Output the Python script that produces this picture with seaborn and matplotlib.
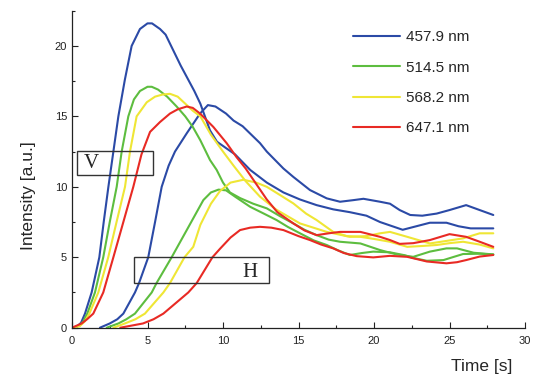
import numpy as np
import pandas as pd
import matplotlib
matplotlib.use("Agg")
import matplotlib.pyplot as plt
from matplotlib.patches import Rectangle
from matplotlib.lines import Line2D
from matplotlib.ticker import MultipleLocator
import seaborn as sns

# ── Data (time [s], intensity [a.u.]) ───────────────────────────────────────
wavelengths = ["457.9 nm", "514.5 nm", "568.2 nm", "647.1 nm"]
colors = ["#2b4aa6", "#5dbd3f", "#efe635", "#e82a24"]

# V-polarised (early rise)
blue_v_t = [0, 0.3, 0.6, 0.86, 1.3, 1.81, 2.1, 2.41, 2.74, 3.07, 3.5, 3.95, 4.5, 5.0, 5.3, 5.83, 6.2, 6.7,
            7.2, 7.6, 8.1, 8.5, 9.14, 9.6, 10.8, 11.8, 12.9, 14.0, 15.1, 16.2, 17.3, 18.4, 19.5, 20.4,
            21.9, 22.8, 23.7, 24.8, 25.6, 26.4, 27.9]
blue_v_i = [0, 0.05, 0.35, 1.0, 2.5, 5.0, 7.5, 10.0, 12.5, 15.0, 17.6, 20.0, 21.2, 21.6, 21.6, 21.2, 20.8, 19.7,
            18.6, 17.8, 16.8, 15.9, 14.0, 13.2, 12.3, 11.2, 10.3, 9.6, 9.1, 8.7, 8.4, 8.2, 7.95, 7.5,
            6.95, 7.2, 7.45, 7.45, 7.2, 7.05, 7.05]
green_v_t = [0, 0.5, 0.75, 1.01, 1.52, 2.07, 2.5, 2.96, 3.29, 3.73, 4.1, 4.5, 5.0, 5.28, 5.7, 6.3, 6.93, 7.5,
             8.0, 8.5, 9.14, 9.58, 10.0, 10.46, 11.13, 12.0, 12.9, 13.8, 14.66, 15.4, 16.2, 17.0, 17.75,
             19.1, 20.4, 21.5, 22.6, 23.7, 24.8, 25.5, 26.6, 27.9]
green_v_i = [0, 0.15, 0.45, 1.0, 2.5, 5.0, 7.5, 10.0, 12.5, 15.0, 16.2, 16.8, 17.1, 17.1, 16.9, 16.4, 15.7, 15.0,
             14.25, 13.3, 11.9, 11.2, 10.3, 9.6, 9.2, 8.8, 8.47, 7.9, 7.4, 6.95, 6.57, 6.25, 6.1,
             5.98, 5.51, 5.2, 5.03, 5.4, 5.63, 5.63, 5.32, 5.2]
yellow_v_t = [0, 0.5, 0.85, 1.15, 1.74, 2.4, 2.95, 3.51, 3.84, 4.28, 4.95, 5.5, 6.0, 6.49, 7.0, 7.5, 8.0, 8.5,
              9.2, 10.0, 10.7, 11.5, 12.45, 13.5, 15.1, 16.87, 18.4, 19.5, 20.4, 21.06, 22.2, 23.7,
              25.9, 27.0, 27.9]
yellow_v_i = [0, 0.1, 0.45, 1.0, 2.5, 5.0, 7.5, 10.0, 12.5, 15.0, 16.0, 16.4, 16.55, 16.6, 16.4, 15.9, 15.4, 15.0,
              13.7, 12.5, 11.5, 10.4, 9.3, 8.4, 7.4, 6.8, 6.45, 6.5, 6.7, 6.8, 6.45, 5.98,
              6.34, 6.7, 6.7]
red_v_t = [0, 0.64, 1.0, 1.41, 2.07, 2.74, 3.4, 4.06, 4.6, 5.17, 5.83, 6.49, 7.0, 7.6, 8.0, 8.48, 9.36, 10.24,
           10.9, 11.5, 12.2, 12.9, 13.6, 14.66, 15.4, 16.2, 17.0, 17.75, 19.1, 20.4, 21.06, 21.7, 22.6,
           23.7, 25.0, 26.1, 27.0, 27.9]
red_v_i = [0, 0.3, 0.6, 1.0, 2.5, 5.0, 7.5, 10.0, 12.3, 13.9, 14.6, 15.2, 15.5, 15.7, 15.6, 15.2, 14.25, 13.1,
           12.1, 11.3, 10.2, 9.1, 8.2, 7.4, 6.9, 6.57, 6.7, 6.8, 6.8, 6.45, 6.22, 5.95, 6.0,
           6.22, 6.64, 6.45, 6.1, 5.74]

# H-polarised (delayed rise)
blue_h_t = [1.85, 2.5, 3.0, 3.4, 4.17, 4.44, 5.05, 5.5, 5.94, 6.4, 6.82, 7.6, 8.48, 9.0, 9.5, 10.2, 10.7, 11.3,
            12.45, 12.9, 14.0, 14.66, 15.76, 16.87, 17.75, 18.6, 19.3, 20.4, 21.06, 21.7, 22.4, 23.2,
            24.15, 25.0, 26.1, 27.0, 27.9]
blue_h_i = [0, 0.3, 0.6, 1.0, 2.5, 3.17, 5.0, 7.5, 10.0, 11.5, 12.5, 13.8, 15.2, 15.8, 15.7, 15.2, 14.7, 14.3,
            13.1, 12.5, 11.3, 10.7, 9.77, 9.18, 8.94, 9.05, 9.15, 8.94, 8.8, 8.35, 8.0, 7.95,
            8.1, 8.35, 8.7, 8.35, 8.0]
green_h_t = [2.3, 3.07, 3.6, 4.17, 5.28, 5.6, 6.6, 7.6, 8.7, 9.2, 9.7, 10.2, 10.8, 11.8, 12.7, 13.55, 14.3,
             15.1, 16.0, 16.87, 17.6, 18.4, 19.2, 19.95, 21.06, 22.0, 22.6, 23.5, 24.6, 25.2, 25.9,
             27.0, 27.9]
green_h_i = [0, 0.3, 0.6, 1.0, 2.5, 3.17, 5.0, 6.93, 9.06, 9.6, 9.8, 9.75, 9.3, 8.58, 8.1, 7.64, 7.15,
             6.7, 6.2, 5.87, 5.5, 5.16, 5.3, 5.4, 5.35, 5.15, 4.95, 4.75, 4.8, 5.0, 5.23,
             5.25, 5.2]
yellow_h_t = [2.74, 3.5, 4.2, 4.83, 6.05, 6.49, 7.45, 8.03, 8.5, 9.2, 9.8, 10.5, 11.35, 12.2, 12.9, 13.8,
              14.66, 15.5, 16.2, 17.3, 18.2, 19.1, 20.0, 21.06, 22.2, 23.2, 24.15, 25.0, 25.9, 27.0, 27.9]
yellow_h_i = [0, 0.3, 0.6, 1.0, 2.5, 3.17, 5.0, 5.74, 7.3, 8.8, 9.7, 10.3, 10.5, 10.3, 10.0, 9.4,
              8.82, 8.1, 7.64, 6.8, 6.5, 6.45, 6.3, 6.1, 5.74, 5.8, 5.87, 6.0, 6.1, 5.9, 5.63]
red_h_t = [3.2, 4.7, 5.4, 6.05, 7.7, 8.26, 9.3, 9.8, 10.5, 11.13, 11.8, 12.45, 13.2, 14.0, 15.0, 15.76, 16.5,
           17.3, 18.0, 18.85, 19.95, 21.06, 22.2, 23.5, 24.8, 25.5, 26.1, 27.0, 27.9]
red_h_i = [0, 0.3, 0.6, 1.0, 2.5, 3.17, 5.0, 5.6, 6.4, 6.93, 7.1, 7.16, 7.1, 6.93, 6.5, 6.22, 5.9,
           5.63, 5.3, 5.08, 4.99, 5.1, 5.03, 4.7, 4.57, 4.65, 4.8, 5.05, 5.16]

curves = [
    ("457.9 nm", "V", blue_v_t, blue_v_i), ("514.5 nm", "V", green_v_t, green_v_i),
    ("568.2 nm", "V", yellow_v_t, yellow_v_i), ("647.1 nm", "V", red_v_t, red_v_i),
    ("457.9 nm", "H", blue_h_t, blue_h_i), ("514.5 nm", "H", green_h_t, green_h_i),
    ("568.2 nm", "H", yellow_h_t, yellow_h_i), ("647.1 nm", "H", red_h_t, red_h_i),
]
rows = []
for wl, pol, t, inten in curves:
    for a, b in zip(t, inten):
        rows.append({"time": a, "intensity": b, "wavelength": wl, "pol": pol})
df = pd.DataFrame(rows)

# ── Plot ─────────────────────────────────────────────────────────────────────
sns.set_style("ticks")
plt.rcParams['font.family'] = ['Liberation Sans', 'DejaVu Sans']

fig = plt.figure(figsize=(5.34, 3.79), dpi=100)
ax = fig.add_axes([72 / 534, 1 - 327.7 / 379, (525 - 72) / 534, (327.7 - 10.7) / 379])

palette = dict(zip(wavelengths, colors))
sns.lineplot(data=df, x="time", y="intensity", hue="wavelength", units="pol",
             estimator=None, sort=False, palette=palette, lw=1.5, legend=False, ax=ax)

ax.set_xlim(0, 30)
ax.set_ylim(0, 22.5)
ax.xaxis.set_major_locator(MultipleLocator(5))
ax.xaxis.set_minor_locator(MultipleLocator(2.5))
ax.yaxis.set_major_locator(MultipleLocator(5))
ax.yaxis.set_minor_locator(MultipleLocator(2.5))
ax.tick_params(which='both', direction='in', width=0.8, colors='#222222', labelsize=8)
ax.tick_params(which='major', length=4)
ax.tick_params(which='minor', length=2.5)
ax.tick_params(axis='x', pad=6)
ax.tick_params(axis='y', pad=3.5)
ax.spines[['top', 'right']].set_visible(False)
for s in ['left', 'bottom']:
    ax.spines[s].set_linewidth(0.9)
    ax.spines[s].set_color('#222222')

ax.set_xlabel("")
ax.set_ylabel("")
fig.text(482 / 534, 1 - 366 / 379, "Time [s]", fontsize=12.5, ha='center', va='center')
fig.text(28 / 534, 1 - 196 / 379, "Intensity [a.u.]", fontsize=12.5, rotation=90,
         ha='center', va='center')

# polarisation boxes
ax.add_patch(Rectangle((0.33, 10.83), 5.03, 1.7, fill=False, ec='#333333', lw=1.0, zorder=5))
ax.add_patch(Rectangle((4.1, 3.17), 8.97, 1.84, fill=False, ec='#333333', lw=1.0, zorder=5))
ax.text(1.3, 11.63, "V", fontsize=15, family='Liberation Serif', ha='center', va='center')
ax.text(11.79, 3.9, "H", fontsize=15, family='Liberation Serif', ha='center', va='center')

handles = [Line2D([], [], color=c, lw=1.5) for c in colors]
ax.legend(handles, wavelengths, loc='upper left', bbox_to_anchor=(353 / 534, 1 - 30 / 379),
          bbox_transform=fig.transFigure, frameon=False, fontsize=11, handlelength=3.1,
          handletextpad=0.4, labelspacing=1.08, borderpad=0, borderaxespad=0)

plt.savefig("out.png", dpi=100)
